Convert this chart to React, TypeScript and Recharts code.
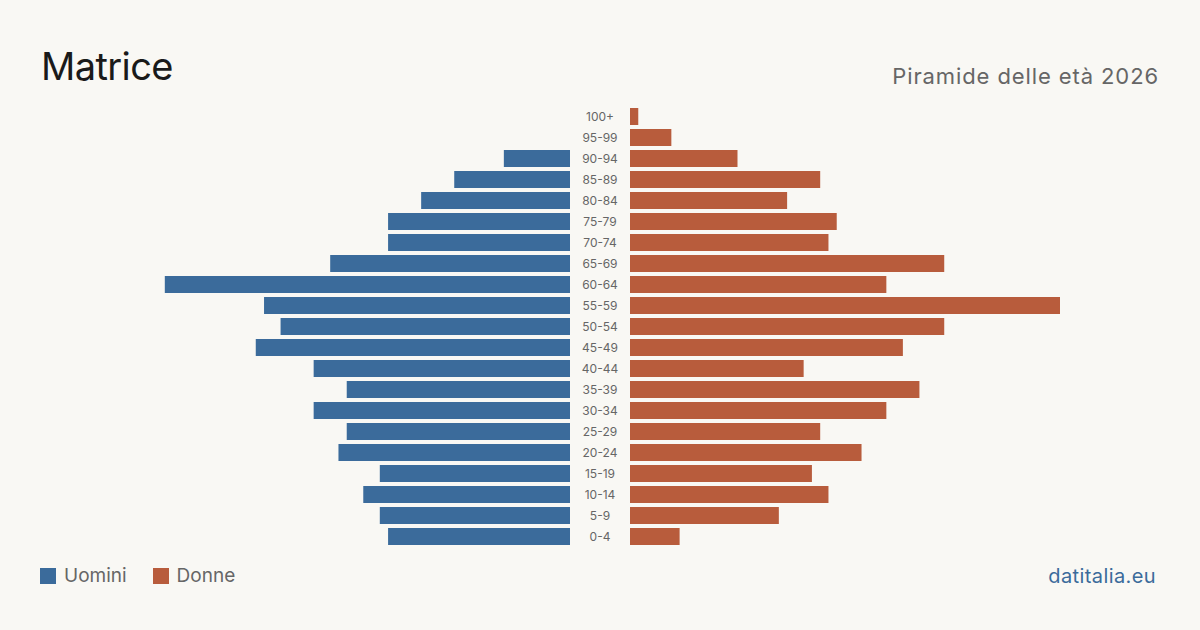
import React from "react";
import { BarChart, Bar, XAxis, YAxis } from "recharts";

const ageGroups = ["100+", "95-99", "90-94", "85-89", "80-84", "75-79", "70-74", "65-69", "60-64", "55-59", "50-54", "45-49", "40-44", "35-39", "30-34", "25-29", "20-24", "15-19", "10-14", "5-9", "0-4"];
const men = [0, 0, 8, 14, 18, 22, 22, 29, 49, 37, 35, 38, 31, 27, 31, 27, 28, 23, 25, 23, 22];
const women = [1, 5, 13, 23, 19, 25, 24, 38, 31, 52, 38, 33, 21, 35, 31, 23, 28, 22, 24, 18, 6];

const BLUE = "#3b6b9b";
const ORANGE = "#b85c3c";
const BG = "#f9f8f4";
const FONT = "Inter, 'Noto Sans', sans-serif";

const data = ageGroups.map((g, i) => ({ age: g, men: men[i], women: women[i] }));
const maxVal = Math.max(...men, ...women);

const ROW = 21;
const CH = ROW * ageGroups.length;
const TOP = 106;

const AgeTick = (props: any) => {
  const { x, y, payload } = props;
  return (
    <text x={x - 30} y={y} dy={4} textAnchor="middle" fill="#666" fontSize={12} fontFamily={FONT}>
      {payload.value}
    </text>
  );
};

export default function App() {
  return (
    <div style={{ position: "absolute", left: 0, top: 0, width: 1200, height: 630, background: BG, fontFamily: FONT, overflow: "hidden" }}>
      <div style={{ position: "absolute", left: 41, top: 42, fontSize: 38, letterSpacing: -0.6, color: "#1a1a1a", lineHeight: "48px" }}>Matrice</div>
      <div style={{ position: "absolute", right: 41, top: 62, fontSize: 22, letterSpacing: 0.9, color: "#666", lineHeight: "28px" }}>Piramide delle età 2026</div>

      <div style={{ position: "absolute", left: 140, top: TOP }}>
        <BarChart width={430} height={CH} data={data} layout="vertical" margin={{ top: 0, right: 0, bottom: 0, left: 0 }} barCategoryGap={0}>
          <XAxis type="number" domain={[0, maxVal]} reversed hide />
          <YAxis type="category" dataKey="age" hide />
          <Bar dataKey="men" fill={BLUE} barSize={17} isAnimationActive={false} />
        </BarChart>
      </div>

      <div style={{ position: "absolute", left: 570, top: TOP }}>
        <BarChart width={490} height={CH} data={data} layout="vertical" margin={{ top: 0, right: 0, bottom: 0, left: 0 }} barCategoryGap={0}>
          <XAxis type="number" domain={[0, maxVal]} hide />
          <YAxis type="category" dataKey="age" width={60} axisLine={false} tickLine={false} tickSize={0} tickMargin={0} tick={<AgeTick />} interval={0} />
          <Bar dataKey="women" fill={ORANGE} barSize={17} isAnimationActive={false} />
        </BarChart>
      </div>

      <div style={{ position: "absolute", left: 40, top: 566, display: "flex", alignItems: "center", fontSize: 19, color: "#666", lineHeight: "20px" }}>
        <span style={{ display: "inline-block", width: 16, height: 16, background: BLUE, marginRight: 8 }} />
        <span>Uomini</span>
        <span style={{ display: "inline-block", width: 16, height: 16, background: ORANGE, marginLeft: 26, marginRight: 8 }} />
        <span>Donne</span>
      </div>
      <div style={{ position: "absolute", right: 44, top: 564, fontSize: 20, letterSpacing: 0.4, color: BLUE, lineHeight: "24px" }}>datitalia.eu</div>
    </div>
  );
}
